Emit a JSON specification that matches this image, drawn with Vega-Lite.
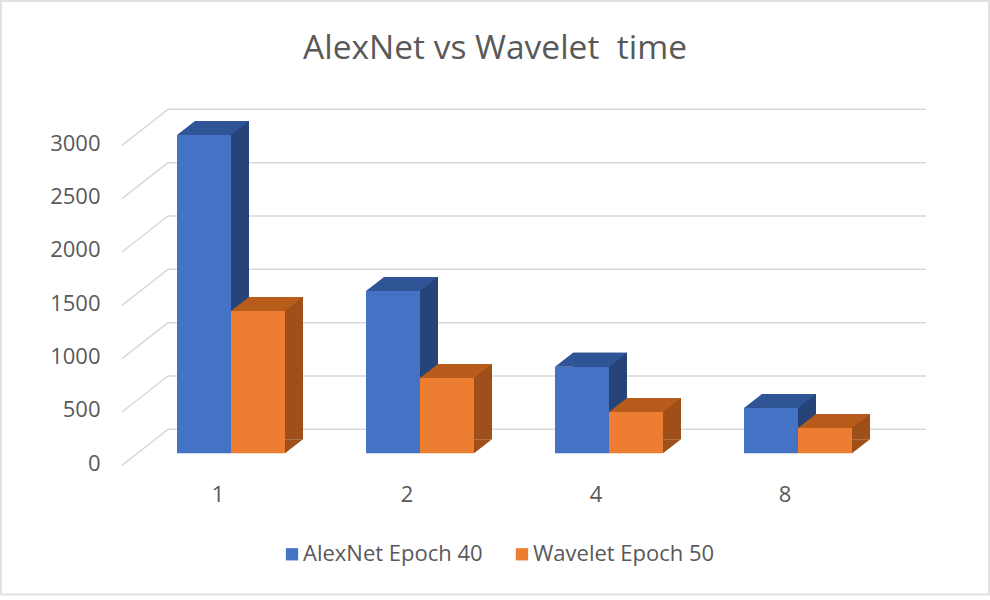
{
  "$schema": "https://vega.github.io/schema/vega-lite/v6.json",
  "width": 758,
  "height": 320,
  "autosize": {"type": "none"},
  "padding": {"left": 168, "top": 109.3, "right": 64, "bottom": 170.7},
  "background": "white",
  "title": {"text": "AlexNet vs Wavelet \u00a0time", "font": "Open Sans", "fontSize": 33.5, "fontWeight": "normal", "color": "#595959", "anchor": "middle", "dx": -52, "offset": -66},
  "config": {
    "view": {"stroke": null},
    "font": "Open Sans",
    "axis": {"labelFont": "Open Sans", "labelColor": "#595959"}
  },
  "datasets": {
    "times": [
      {"threads": "1", "series": "AlexNet Epoch 40", "time": 2985},
      {"threads": "1", "series": "Wavelet Epoch 50", "time": 1334},
      {"threads": "2", "series": "AlexNet Epoch 40", "time": 1522},
      {"threads": "2", "series": "Wavelet Epoch 50", "time": 706},
      {"threads": "4", "series": "AlexNet Epoch 40", "time": 812},
      {"threads": "4", "series": "Wavelet Epoch 50", "time": 387},
      {"threads": "8", "series": "AlexNet Epoch 40", "time": 425},
      {"threads": "8", "series": "Wavelet Epoch 50", "time": 238}
    ],
    "levels": [{"time": 0}, {"time": 500}, {"time": 1000}, {"time": 1500}, {"time": 2000}, {"time": 2500}, {"time": 3000}]
  },
  "layer": [
    {
      "description": "Thin outline around the whole chart",
      "data": {"values": [{"frame": 1}]},
      "mark": {"type": "rect", "filled": false, "stroke": "#e2e2e2", "strokeWidth": 2, "clip": false},
      "encoding": {"x": {"value": -167}, "x2": {"value": 821}, "y": {"value": -108.3}, "y2": {"value": 485.2}}
    },
    {
      "description": "Back wall grid lines and the value axis",
      "data": {"name": "levels"},
      "mark": {"type": "rule", "stroke": "#d9d9d9", "strokeWidth": 1.5},
      "encoding": {
        "y": {"field": "time", "type": "quantitative", "scale": {"domain": [0, 3000]}, "title": null,
          "axis": {"values": [0, 500, 1000, 1500, 2000, 2500, 3000], "format": "d", "domain": false, "ticks": false, "grid": false, "labelFontSize": 22, "labelPadding": 68, "labelOffset": 34}}
      }
    },
    {
      "description": "Side wall lines running from the back wall toward the viewer",
      "data": {"name": "levels"},
      "mark": {"type": "point", "shape": "M0,0L-46,36", "size": 4, "filled": false, "stroke": "#d9d9d9", "strokeWidth": 1.5, "opacity": 1},
      "encoding": {
        "x": {"value": 0},
        "y": {"field": "time", "type": "quantitative"}
      }
    },
    {
      "description": "Right-hand faces: dark bars set back in depth",
      "data": {"name": "times"},
      "mark": {"type": "bar", "size": 54, "yOffset": 10},
      "encoding": {
        "x": {"field": "threads", "type": "nominal", "axis": null,
          "scale": {"range": [-13.5, 742.5], "paddingInner": 0.4286, "paddingOuter": 0.2143}},
        "xOffset": {"field": "series", "type": "nominal"},
        "y": {"field": "time", "type": "quantitative"},
        "color": {"field": "series", "type": "nominal", "legend": null, "scale": {"range": ["#264478", "#9e4f1a"]}}
      }
    },
    {
      "description": "Wedge closing the foot of each right-hand face",
      "data": {"name": "times"},
      "mark": {"type": "point", "shape": "M27,-14L45,-14L27,0Z", "size": 4, "filled": true, "opacity": 1, "yOffset": 24},
      "encoding": {
        "x": {"field": "threads", "type": "nominal", "axis": null,
          "scale": {"range": [-31.5, 724.5], "paddingInner": 0.4286, "paddingOuter": 0.2143}},
        "xOffset": {"field": "series", "type": "nominal"},
        "y": {"datum": 0},
        "color": {"field": "series", "type": "nominal", "legend": null, "scale": {"range": ["#264478", "#9e4f1a"]}}
      }
    },
    {
      "description": "Front faces, which carry the legend and the category axis",
      "data": {"name": "times"},
      "mark": {"type": "bar", "size": 54, "yOffset": 24},
      "encoding": {
        "x": {"field": "threads", "type": "nominal", "title": null,
          "scale": {"range": [-31.5, 724.5], "paddingInner": 0.4286, "paddingOuter": 0.2143},
          "axis": {"domain": false, "ticks": false, "labelAngle": 0, "labelFontSize": 22, "labelPadding": 55, "labelOffset": -13}},
        "xOffset": {"field": "series", "type": "nominal"},
        "y": {"field": "time", "type": "quantitative"},
        "color": {"field": "series", "type": "nominal", "title": null,
          "scale": {"range": ["#4472c4", "#ed7d31"]},
          "legend": {"orient": "none", "direction": "horizontal", "legendX": 113, "legendY": 434, "symbolType": "square", "symbolSize": 150, "symbolOpacity": 1, "labelFont": "Open Sans", "labelFontSize": 22, "labelColor": "#595959", "labelLimit": 300, "labelOffset": 0, "columnPadding": 28, "padding": 0}}
      }
    },
    {
      "description": "Top faces of the bars",
      "data": {"name": "times"},
      "mark": {"type": "point", "shape": "M-27,0L-9,-14L45,-14L27,0Z", "size": 4, "filled": true, "opacity": 1, "yOffset": 24},
      "encoding": {
        "x": {"field": "threads", "type": "nominal", "axis": null,
          "scale": {"range": [-31.5, 724.5], "paddingInner": 0.4286, "paddingOuter": 0.2143}},
        "xOffset": {"field": "series", "type": "nominal"},
        "y": {"field": "time", "type": "quantitative"},
        "color": {"field": "series", "type": "nominal", "legend": null, "scale": {"range": ["#2f5597", "#b85c1c"]}}
      }
    }
  ],
  "resolve": {"scale": {"color": "independent", "x": "independent", "xOffset": "independent"}}
}
